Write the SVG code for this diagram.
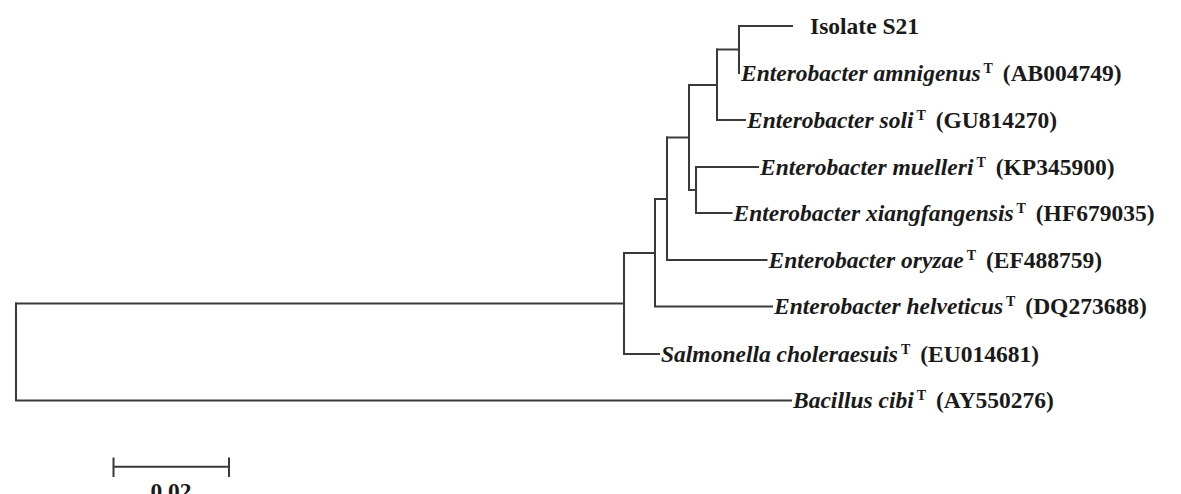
<svg xmlns="http://www.w3.org/2000/svg" width="1181" height="494" viewBox="0 0 1181 494">
<style>
.br{fill:none;stroke:#3a3a3a;stroke-width:2;stroke-linecap:square}
.lb{font-family:"Liberation Serif","Times New Roman",serif;font-size:23.5px;font-weight:bold;fill:#1a1a1a}
.it{font-style:italic}
.sup{font-size:14px}
</style>
<rect width="1181" height="494" fill="#ffffff"/>
<g id="connectors">
<path class="br" d="M16,303.5V400.5H791"/>
<path class="br" d="M16,303.5H624"/>
<path class="br" d="M624,253V354H659"/>
<path class="br" d="M624,253H655"/>
<path class="br" d="M655,199V306.5H772"/>
<path class="br" d="M655,199H667"/>
<path class="br" d="M667,137.5V260H766.5"/>
<path class="br" d="M667,137.5H689"/>
<path class="br" d="M689,85V190H696"/>
<path class="br" d="M696,167V213H731.5"/>
<path class="br" d="M696,167H758"/>
<path class="br" d="M689,85H717"/>
<path class="br" d="M717,49.5V120H745"/>
<path class="br" d="M717,49.5H739"/>
<path class="br" d="M739,26V73"/>
<path class="br" d="M739,26H792"/>
</g>
<g id="isolate-s21"><text class="lb" x="810" y="33.5">Isolate S21</text></g>
<g id="e-amnigenus"><text class="lb" x="741" y="80.5"><tspan class="it">Enterobacter amnigenus</tspan><tspan class="sup" dx="3" dy="-8">T</tspan><tspan dx="4" dy="8"> (AB004749)</tspan></text></g>
<g id="e-soli"><text class="lb" x="747" y="127.5"><tspan class="it">Enterobacter soli</tspan><tspan class="sup" dx="3" dy="-8">T</tspan><tspan dx="4" dy="8"> (GU814270)</tspan></text></g>
<g id="e-muelleri"><text class="lb" x="760" y="174.5"><tspan class="it">Enterobacter muelleri</tspan><tspan class="sup" dx="3" dy="-8">T</tspan><tspan dx="4" dy="8"> (KP345900)</tspan></text></g>
<g id="e-xiangfangensis"><text class="lb" x="733.5" y="220.5"><tspan class="it">Enterobacter xiangfangensis</tspan><tspan class="sup" dx="3" dy="-8">T</tspan><tspan dx="4" dy="8"> (HF679035)</tspan></text></g>
<g id="e-oryzae"><text class="lb" x="768.5" y="267.5"><tspan class="it">Enterobacter oryzae</tspan><tspan class="sup" dx="3" dy="-8">T</tspan><tspan dx="4" dy="8"> (EF488759)</tspan></text></g>
<g id="e-helveticus"><text class="lb" x="774" y="314"><tspan class="it">Enterobacter helveticus</tspan><tspan class="sup" dx="3" dy="-8">T</tspan><tspan dx="4" dy="8"> (DQ273688)</tspan></text></g>
<g id="s-choleraesuis"><text class="lb" x="661" y="361.5"><tspan class="it">Salmonella choleraesuis</tspan><tspan class="sup" dx="3" dy="-8">T</tspan><tspan dx="4" dy="8"> (EU014681)</tspan></text></g>
<g id="b-cibi"><text class="lb" x="793" y="408"><tspan class="it">Bacillus cibi</tspan><tspan class="sup" dx="3" dy="-8">T</tspan><tspan dx="4" dy="8"> (AY550276)</tspan></text></g>
<g id="scale-bar">
<path class="br" d="M113.5,458.5V476M113.5,466.7H229M229,458.5V476"/>
<text class="lb" x="171" y="499" text-anchor="middle">0.02</text>
</g>
</svg>
